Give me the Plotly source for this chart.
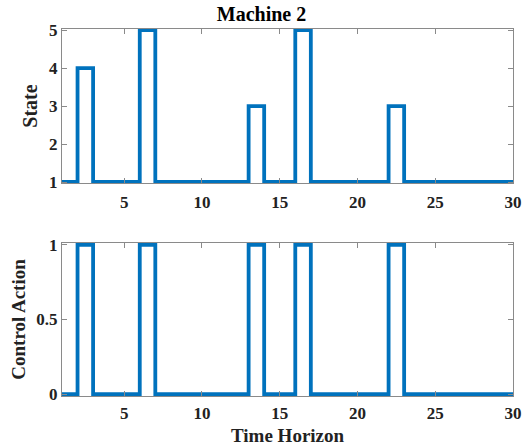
import plotly.graph_objects as go
from plotly.subplots import make_subplots

time = list(range(1, 31))
state = [1, 4, 1, 1, 1, 5, 1, 1, 1, 1, 1, 1, 3, 1, 1, 5, 1, 1, 1, 1, 1, 3, 1, 1, 1, 1, 1, 1, 1, 1]
action = [0, 1, 0, 0, 0, 1, 0, 0, 0, 0, 0, 0, 1, 0, 0, 1, 0, 0, 0, 0, 0, 1, 0, 0, 0, 0, 0, 0, 0, 0]

BLUE = "#0072BD"
FONT = "Liberation Serif"

fig = make_subplots(rows=2, cols=1, vertical_spacing=0.16)
fig.add_trace(go.Scatter(x=time, y=state, mode="lines", line=dict(color=BLUE, width=3.8, shape="hv"),
                         showlegend=False), row=1, col=1)
fig.add_trace(go.Scatter(x=time, y=action, mode="lines", line=dict(color=BLUE, width=3.8, shape="hv"),
                         showlegend=False), row=2, col=1)

axis_common = dict(showline=True, linecolor="#8a8a8a", linewidth=1, mirror="ticks", ticks="inside",
                   ticklen=5, tickcolor="#8a8a8a", showgrid=False, zeroline=False, automargin=False,
                   tickfont=dict(family=FONT, size=17, color="#222", weight="bold"))

fig.update_layout(
    width=523, height=446, margin=dict(l=62, r=10, t=29, b=50),
    plot_bgcolor="white", paper_bgcolor="white",
    title=dict(text="<b>Machine 2</b>", x=0.5, xanchor="center", y=0.968, yanchor="middle",
               font=dict(family=FONT, size=20, color="black")),
    xaxis=dict(domain=[0, 1], range=[1, 30], tickvals=[5, 10, 15, 20, 25, 30], ticklabelstandoff=3,
               **axis_common),
    xaxis2=dict(domain=[0, 1], range=[1, 30], tickvals=[5, 10, 15, 20, 25, 30], ticklabelstandoff=2,
                **axis_common),
    yaxis=dict(domain=[0.58, 1], range=[0.97, 5.03], tickvals=[1, 2, 3, 4, 5],
               title=dict(text="<b>State</b>", font=dict(family=FONT, size=20, color="#222"), standoff=6),
               **axis_common),
    yaxis2=dict(domain=[0, 0.417], range=[-0.012, 1.012], tickvals=[0, 0.5, 1],
                title=dict(text="<b>Control Action</b>", font=dict(family=FONT, size=19, color="#222"), standoff=5),
                **axis_common),
    annotations=[dict(text="<b>Time Horizon</b>", xref="paper", yref="paper", x=0.5, y=-0.074,
                      xanchor="center", yanchor="top", showarrow=False,
                      font=dict(family=FONT, size=19, color="#222"))],
)

fig.write_html("out.html")
